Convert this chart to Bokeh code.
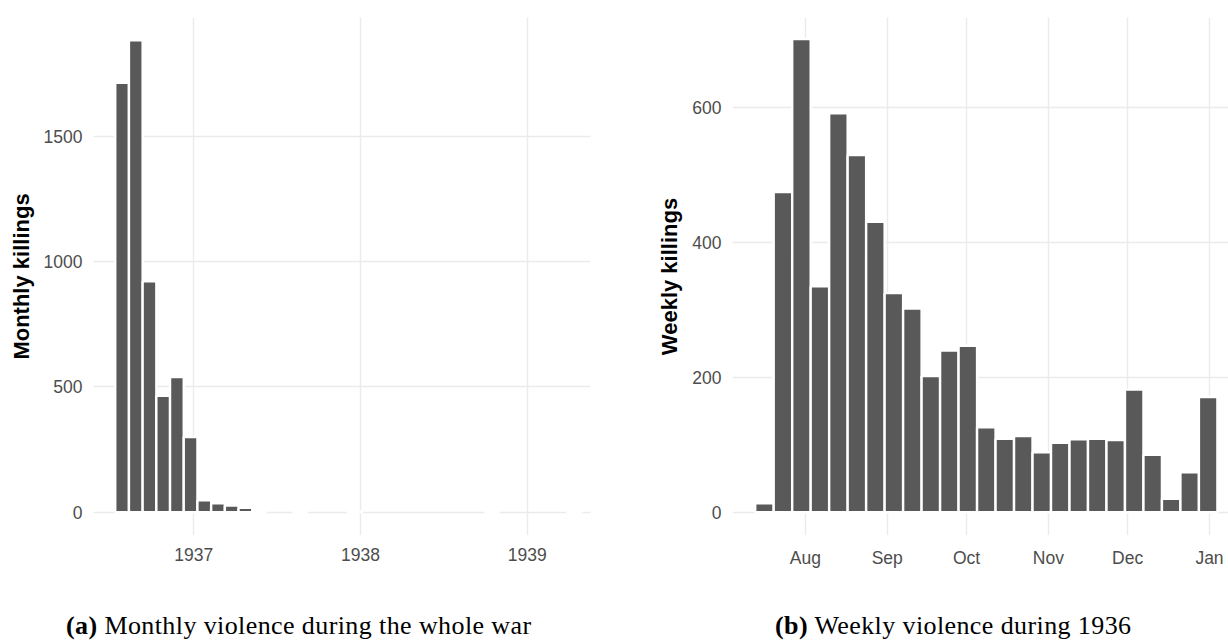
import pandas as pd
from bokeh.plotting import figure
from bokeh.models import ColumnDataSource, FixedTicker, Range1d, Div
from bokeh.layouts import column, row
from bokeh.embed import file_html
from bokeh.resources import INLINE

# ---------------- data ----------------
monthly_bin_start = "1936-07-13"
monthly_bin_days = 30
monthly_killings = [1713, 1882, 921, 464, 539, 300, 47, 35, 26, 17, 10, 0, 0, 6,
                    0, 0, 0, 3, 0, 0, 0, 0, 0, 0, 0, 0, 0, 3, 0, 0, 0, 0, 0, 4]
monthly_ref = "1937-01-01"
monthly_tick_dates = ["1937-01-01", "1938-01-01", "1939-01-01"]
monthly_tick_labels = ["1937", "1938", "1939"]
monthly_y_ticks = [0, 500, 1000, 1500]

weekly_bin_start = "1936-07-13"
weekly_bin_days = 7
weekly_killings = [13, 475, 702, 335, 592, 530, 431, 325, 302, 202, 240, 247, 126,
                   109, 113, 89, 103, 108, 109, 107, 182, 85, 20, 59, 171]
weekly_ref = "1936-08-01"
weekly_tick_dates = ["1936-08-01", "1936-09-01", "1936-10-01", "1936-11-01",
                     "1936-12-01", "1937-01-01"]
weekly_tick_labels = ["Aug", "Sep", "Oct", "Nov", "Dec", "Jan"]
weekly_y_ticks = [0, 200, 400, 600]

caption_a = ("(a)", "Monthly violence during the whole war")
caption_b = ("(b)", "Weekly violence during 1936")

BAR = "#595959"
GRID = "#EBEBEB"
TICK = "#4D4D4D"
SANS = "Liberation Sans"


def bars(start, days, counts, ref):
    s = pd.Timestamp(start)
    r = pd.Timestamp(ref)
    xs, tops = [], []
    for i, c in enumerate(counts):
        if c <= 0:
            continue
        center = s + pd.Timedelta(days=i * days) + pd.Timedelta(hours=days * 12)
        xs.append((center - r) / pd.Timedelta(days=1))
        tops.append(c)
    return ColumnDataSource(dict(x=xs, top=tops))


def ticks(dates, labels, ref):
    r = pd.Timestamp(ref)
    vals = [int((pd.Timestamp(d) - r) / pd.Timedelta(days=1)) for d in dates]
    return vals, {v: l for v, l in zip(vals, labels)}


def make_fig(width, mbl, mbr, xr, yr, ylabel):
    p = figure(width=width, height=575, x_range=Range1d(*xr), y_range=Range1d(*yr),
               output_backend="svg", toolbar_location=None,
               min_border_left=mbl, min_border_right=mbr,
               min_border_top=17, min_border_bottom=40)
    p.outline_line_color = None
    p.background_fill_color = "white"
    p.border_fill_color = "white"
    for ax in (p.xaxis[0], p.yaxis[0]):
        ax.axis_line_color = None
        ax.major_tick_line_color = None
        ax.minor_tick_line_color = None
        ax.major_tick_in = 0
        ax.major_tick_out = 0
        ax.minor_tick_in = 0
        ax.minor_tick_out = 0
        ax.major_label_text_font = SANS
        ax.major_label_text_font_size = "17.5px"
        ax.major_label_text_color = TICK
    p.xaxis.major_label_standoff = 12
    p.yaxis.major_label_standoff = 11
    p.yaxis.axis_label = ylabel
    p.yaxis.axis_label_text_font = SANS
    p.yaxis.axis_label_text_font_style = "bold"
    p.yaxis.axis_label_text_font_size = "22px"
    p.yaxis.axis_label_text_color = "black"
    p.yaxis.axis_label_standoff = 7
    for g in (p.xgrid, p.ygrid):
        g.grid_line_color = GRID
        g.grid_line_width = 1.4
        g.minor_grid_line_color = None
    return p


# left: monthly
p1 = make_fig(620, 93, 30, (-219.6, 868.6), (-93, 1973), "Monthly killings")
src1 = bars(monthly_bin_start, monthly_bin_days, monthly_killings, monthly_ref)
p1.vbar(x="x", top="top", bottom=0, width=monthly_bin_days, source=src1,
        fill_color=BAR, line_color="white", line_width=2.4)
tv, ov = ticks(monthly_tick_dates, monthly_tick_labels, monthly_ref)
p1.xaxis.ticker = FixedTicker(ticks=tv)
p1.xaxis.major_label_overrides = ov
p1.yaxis.ticker = FixedTicker(ticks=monthly_y_ticks)

# right: weekly
p2 = make_fig(608, 112, 0, (-27.6, 160.2), (-34.6, 734), "Weekly killings")
src2 = bars(weekly_bin_start, weekly_bin_days, weekly_killings, weekly_ref)
p2.vbar(x="x", top="top", bottom=0, width=weekly_bin_days, source=src2,
        fill_color=BAR, line_color="white", line_width=2.4)
tv, ov = ticks(weekly_tick_dates, weekly_tick_labels, weekly_ref)
p2.xaxis.ticker = FixedTicker(ticks=tv)
p2.xaxis.major_label_overrides = ov
p2.yaxis.ticker = FixedTicker(ticks=weekly_y_ticks)


def caption(parts, pad_left, width):
    html = ('<div style="font-family:\'Liberation Serif\'; font-size:26px; line-height:26px; '
            'letter-spacing:0.4px; padding-top:38px; padding-left:%dpx; white-space:nowrap; '
            'color:black;"><b>%s</b> %s</div>' % (pad_left, parts[0], parts[1]))
    return Div(text=html, width=width, height=65, margin=0)


div_a = caption(caption_a, 66, 620)
div_b = caption(caption_b, 155, 608)

layout = column(row(p1, p2), row(div_a, div_b))

open("out.html", "w").write(file_html(layout, INLINE))
